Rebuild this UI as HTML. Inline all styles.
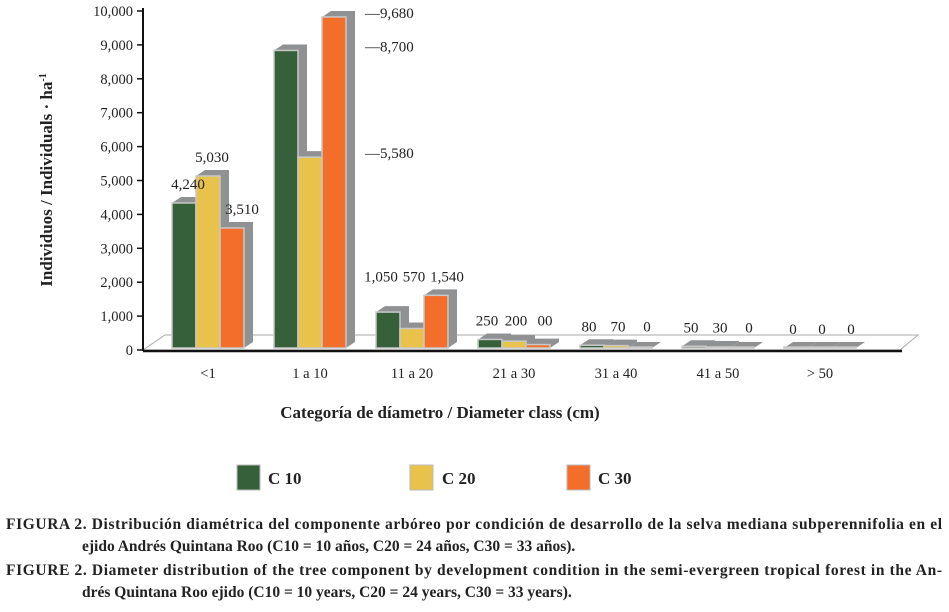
<!DOCTYPE html>
<html><head><meta charset="utf-8"><style>
body{margin:0;background:#fff;}
svg text{font-family:"Liberation Serif",serif;fill:#222;}
</style></head><body>
<svg width="949" height="607" viewBox="0 0 949 607" xmlns="http://www.w3.org/2000/svg">
<g id="floor">
<polygon points="143,350 165,335 918,335 900,350" fill="#fff" stroke="#aaa" stroke-width="1"/>
</g>
<g id="bars"></g>
<g id="labels"></g>
<g id="axis"></g>
<line x1="143" y1="351" x2="902" y2="351" stroke="#111" stroke-width="2.5"/>
<text x="52" y="180" font-size="17" font-weight="bold" text-anchor="middle" transform="rotate(-90 52 180)">Individuos / Individuals · ha<tspan font-size="10" dy="-6">-1</tspan></text>
<text x="440" y="418" font-size="17" font-weight="bold" text-anchor="middle">Categoría de díametro / Diameter class (cm)</text>
<g>
<rect x="237" y="465" width="23" height="25" fill="#36603a" stroke="#bbb"/>
<text x="268" y="484" font-size="17" font-weight="bold">C 10</text>
<rect x="410" y="465" width="23" height="25" fill="#e8c24a" stroke="#bbb"/>
<text x="442" y="484" font-size="17" font-weight="bold">C 20</text>
<rect x="567" y="465" width="23" height="25" fill="#f26e2a" stroke="#bbb"/>
<text x="598" y="484" font-size="17" font-weight="bold">C 30</text>
</g>
<g font-size="15.5" font-weight="bold">
<text x="6" y="529" textLength="936">FIGURA 2. Distribución diamétrica del componente arbóreo por condición de desarrollo de la selva mediana subperennifolia en el</text>
<text x="82" y="551">ejido Andrés Quintana Roo (C10 = 10 años, C20 = 24 años, C30 = 33 años).</text>
<text x="6" y="575" textLength="936">FIGURE 2. Diameter distribution of the tree component by development condition in the semi-evergreen tropical forest in the An-</text>
<text x="82" y="597">drés Quintana Roo ejido (C10 = 10 years, C20 = 24 years, C30 = 33 years).</text>
</g>
</svg>
<script>
const categories = ["<1","1 a 10","11 a 20","21 a 30","31 a 40","41 a 50","> 50"];
const c10 = [4240, 8700, 1050, 250, 80, 50, 0];
const c20 = [5030, 5580, 570, 200, 70, 30, 0];
const c30 = [3510, 9680, 1540, 100, 0, 0, 0];
const c30Labels = ["3,510","9,680","1,540","00","0","0","0"];
const yTicks = [0,1000,2000,3000,4000,5000,6000,7000,8000,9000,10000];
const NS="http://www.w3.org/2000/svg";
const y = v => 348 - v*0.0342;
const tickY = v => 350 - v*0.0339;
const xc = i => 208 + i*102;
const fmt = v => v.toLocaleString('en-US');
function mk(t,a,p){const e=document.createElementNS(NS,t);for(const k in a)e.setAttribute(k,a[k]);p.appendChild(e);return e;}
const ax=document.getElementById('axis');
mk('line',{x1:143,y1:8,x2:143,y2:351,stroke:'#111','stroke-width':2},ax);
yTicks.forEach(v=>{
  const ty=tickY(v);
  const l=mk('line',{x1:137,y1:ty,x2:143,y2:ty,stroke:'#111','stroke-width':1.5},ax);
  
  
  const t=mk('text',{x:133,y:ty+5,'font-size':14.5,'text-anchor':'end'},ax);
  
  
  t.textContent=fmt(v);
});
const bg=document.getElementById('bars'), lg=document.getElementById('labels');
const series=[[c10,'#36603a'],[c20,'#e8c24a'],[c30,'#f26e2a']];
const bw=24, dx=9, dy=6;
categories.forEach((c,i)=>{
  const x0=xc(i)-bw*1.5;
  series.forEach(([arr,col],s)=>{
    const v=arr[i], x=x0+s*bw, top=y(v), bot=348;
    const sh=mk('polygon',{points:`${x},${top} ${x+dx},${top-dy} ${x+bw+dx},${top-dy} ${x+bw+dx},${bot-dy} ${x+bw},${bot} ${x+bw},${top}`,fill:'#8f9193'},bg);
    
    
    const h=Math.max(bot-top,1);
    const r=mk('rect',{x:x,y:bot-h,width:bw,height:h,fill:col,stroke:'#c8c8c8','stroke-width':1.5},bg);
    
    
  });
  if(i===1){
    [[c30[i],'—9,680'],[c10[i],'—8,700'],[c20[i],'—5,580']].forEach(([v,s])=>{
      const t=mk('text',{x:365,y:y(v)+1,'font-size':15},lg);
      
      
      t.textContent=s.replace(/[\d,]+/,fmt(v));
    });
  } else {
    const vals=[c10[i],c20[i],c30[i]];
    const strs=[fmt(c10[i]),fmt(c20[i]),i===0?fmt(c30[i]):c30Labels[i]];
    let ly = i===0 ? null : Math.min(...vals.map(y))-14;
    vals.forEach((v,s)=>{
      const yy = i===0 ? y(v)-14 : ly;
      const xx = i===0 ? x0+s*bw+bw/2+(s===2?10:4) : xc(i)+2+(s-1)*(i===2?33:29);
      const t=mk('text',{x:xx,y:yy,'font-size':15,'text-anchor':'middle'},lg);
      
      
      t.textContent=strs[s];
    });
  }
  const ct=mk('text',{x:xc(i),y:378,'font-size':14.5,'text-anchor':'middle'},lg);
  
  
  ct.textContent=c;
});
</script>
</body></html>
